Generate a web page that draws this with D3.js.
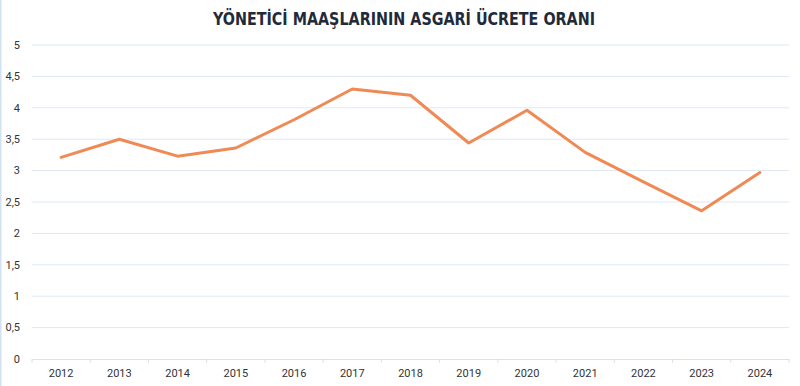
<!DOCTYPE html>
<html><head><meta charset="utf-8">
<script src="https://cdn.jsdelivr.net/npm/d3@7"></script>
<style>html,body{margin:0;padding:0;background:#fff;}svg{display:block;}</style>
</head><body>
<svg id="c" width="800" height="386"></svg>
<script>
const years = ["2012","2013","2014","2015","2016","2017","2018","2019","2020","2021","2022","2023","2024"];
const ratios = [3.21,3.50,3.23,3.36,3.81,4.30,4.20,3.44,3.96,3.29,2.82,2.36,2.97];
const yTicks = [0,0.5,1,1.5,2,2.5,3,3.5,4,4.5,5];
const title = "YÖNETİCİ MAAŞLARININ ASGARİ ÜCRETE ORANI";

const svg = d3.select("#c");
const W = 800, H = 386;
const m = {left:32, right:11, top:45, bottom:27};
const x = d3.scaleBand().domain(years).range([m.left, W - m.right]);
const y = d3.scaleLinear().domain([0,5]).range([H - m.bottom, m.top]);

// left border
svg.append("line").attr("x1",0.5).attr("x2",0.5).attr("y1",0).attr("y2",H)
  .attr("stroke","#d3e2f1").attr("stroke-width",2);

// gridlines
svg.append("g").selectAll("line").data(yTicks.filter(d=>d>0)).join("line")
  .attr("x1", m.left).attr("x2", W - m.right)
  .attr("y1", d=>y(d)).attr("y2", d=>y(d))
  .attr("stroke","#dde8f4").attr("stroke-width",1);

// y labels
svg.append("g").selectAll("text").data(yTicks).join("text")
  .attr("x", 20).attr("y", d=>y(d)).attr("dy","0.35em")
  .attr("text-anchor","end")
  .attr("font-family","Roboto, 'Noto Sans', sans-serif").attr("font-size",11)
  .attr("fill","#333").text(d=>String(d).replace(".",","));

// x axis
const xa = svg.append("g").attr("transform",`translate(0,${y(0)})`)
  .call(d3.axisBottom(x).tickSize(0).tickPadding(10));
xa.select(".domain").attr("stroke","#d6e3f1");
xa.selectAll("text").attr("font-family","Roboto, 'Noto Sans', sans-serif").attr("font-size",11).attr("fill","#333");
// boundary ticks
const bounds = years.map(d=>x(d)).concat([x(years[years.length-1]) + x.bandwidth()]);
xa.append("g").selectAll("line").data(bounds).join("line")
  .attr("x1",d=>d).attr("x2",d=>d).attr("y1",0).attr("y2",4)
  .attr("stroke","#d6e3f1");

// line
const line = d3.line().x((d,i)=>x(years[i]) + x.bandwidth()/2).y(d=>y(d));
svg.append("path").datum(ratios).attr("d", line)
  .attr("fill","none").attr("stroke","#ef8a55").attr("stroke-width",3)
  .attr("stroke-linejoin","round").attr("stroke-linecap","round");

// title
svg.append("text").attr("x", 404).attr("y", 25).attr("text-anchor","middle")
  .attr("font-family","'DejaVu Sans Condensed', 'DejaVu Sans', sans-serif")
  .attr("font-weight","bold").attr("font-size",18).attr("fill","#1f2b3a")
  .attr("textLength",382).attr("lengthAdjust","spacingAndGlyphs")
  .text(title);
</script>
</body></html>
